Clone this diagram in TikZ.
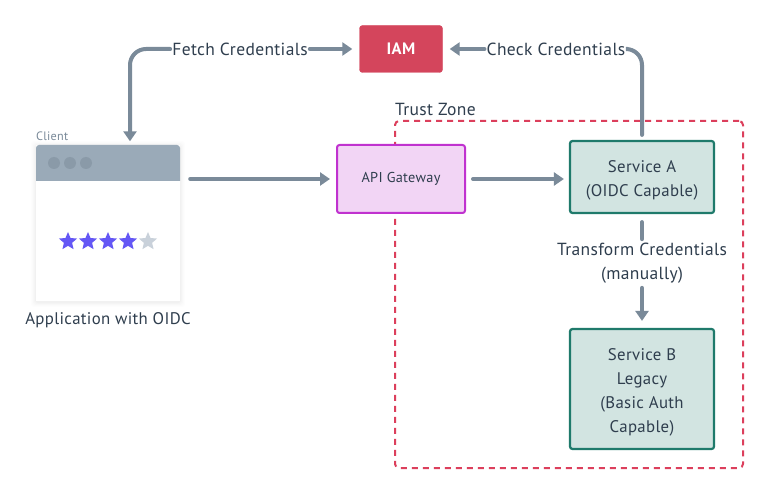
\documentclass[tikz,border=0pt]{standalone}
\usepackage{fontspec}
\setmainfont[LetterSpace=2]{PT Sans}
\usetikzlibrary{arrows.meta,shapes.geometric}
\definecolor{conn}{HTML}{7A8A99}
\definecolor{ink}{HTML}{2F3E4E}
\definecolor{zone}{HTML}{DC3F5C}
\definecolor{head}{HTML}{9AAAB8}
\definecolor{dotc}{HTML}{8A9AA8}
\definecolor{svcf}{HTML}{D2E4E1}
\definecolor{svcd}{HTML}{1F7A6B}
\definecolor{gwf}{HTML}{F2D5F5}
\definecolor{gwd}{HTML}{C032CF}
\definecolor{iamf}{HTML}{D4455C}
\definecolor{starc}{HTML}{6457F5}
\definecolor{stard}{HTML}{C9D1DA}
\newcommand{\bodyfont}{\fontsize{16.8}{24}\selectfont}
\newcommand{\lblfont}{\fontsize{17.5}{24}\selectfont}
\newcommand{\lowerstrut}{\rule{0pt}{18pt}}
\tikzset{
  x=1pt,y=-1pt,
  connector/.style={draw=conn,line width=4pt,line cap=round,-{Triangle[length=10pt,width=13pt]}},
  plainconn/.style={draw=conn,line width=4pt,line cap=round},
  lbl/.style={text=ink,inner sep=2pt,align=center,font=\lblfont},
  svc/.style={draw=svcd,fill=svcf,line width=2.2pt,rounded corners=2.5pt,text=ink,align=center,font=\bodyfont,inner sep=0pt,minimum width=144pt},
  starnode/.style={star,star points=5,star point ratio=2.2,minimum size=19pt,inner sep=0pt,draw=none},
  dotnode/.style={circle,fill=dotc,minimum size=12pt,inner sep=0pt,draw=none},
}
\begin{document}
\begin{tikzpicture}
\useasboundingbox[fill=white] (0,0) rectangle (768,494);
% trust zone
\node[draw=zone,line width=2pt,dash pattern=on 6pt off 5pt,rounded corners=4pt,minimum width=348pt,minimum height=347pt,inner sep=0pt] (zone) at (569,294.5) {};
\node[text=ink,font=\lblfont,anchor=base west,inner sep=0pt] (zonelabel) at (395,115.5) {Trust Zone};
% client card
\foreach \g/\o in {5/.006,4/.008,3/.01,2/.012,1/.015}{
  \fill[black,opacity=\o,rounded corners=3pt] (36-\g,145-\g+1) rectangle (180+\g,301+\g+1);
}
\node[fill=white,minimum width=144pt,minimum height=156pt,inner sep=0pt] (client) at (108,223) {};
\fill[head] (36,181) -- (36,148) arc[start angle=180,end angle=90,radius=3pt] -- (177,145) arc[start angle=90,end angle=0,radius=3pt] -- (180,181) -- cycle;
\node[dotnode] (d1) at (54,163) {};
\node[dotnode] (d2) at (70,163) {};
\node[dotnode] (d3) at (86,163) {};
\node[starnode,fill=starc] (s1) at (68,241.5) {};
\node[starnode,fill=starc] (s2) at (88,241.5) {};
\node[starnode,fill=starc] (s3) at (108,241.5) {};
\node[starnode,fill=starc] (s4) at (128,241.5) {};
\node[starnode,fill=stard] (s5) at (148,241.5) {};
\node[text=conn,font=\fontsize{12.2}{14}\selectfont,anchor=base west,inner sep=0pt] (clientlabel) at (36,141) {Client};
\node[lbl,font=\bodyfont,anchor=base] (applabel) at (108,324) {Application with OIDC};
% boxes
\node[draw=iamf,fill=iamf,rounded corners=3pt,minimum width=83pt,minimum height=47pt,inner sep=0pt,text=white,font=\bfseries\fontsize{16.5}{18}\selectfont] (iam) at (401,49) {IAM};
\node[draw=gwd,fill=gwf,line width=2pt,rounded corners=2.5pt,minimum width=128pt,minimum height=68pt,inner sep=0pt,text=ink,font=\fontsize{14.3}{16}\selectfont] (gw) at (401,179) {API Gateway};
\node[svc,minimum height=72pt] (sa) at (642,177) {\lowerstrut Service A\\(OIDC Capable)};
\node[svc,minimum height=120pt] (sb) at (642,389) {\lowerstrut Service B\\Legacy\\(Basic Auth\\Capable)};
% labels on connectors
\node[lbl] (fetch) at (240,49) {Fetch Credentials};
\node[lbl] (check) at (556,49) {Check Credentials};
\node[lbl] (trans) at (642,263.5) {Transform Credentials\\(manually)};
% connectors
\draw[connector,rounded corners=16pt,shorten >=3.5pt] (fetch.west) -| ([xshift=22pt]client.north);
\draw[connector,shorten >=7pt] (fetch.east) -- (iam.west);
\draw[connector,shorten >=7pt] (check.west) -- (iam.east);
\draw[plainconn,rounded corners=16pt,shorten >=5pt] (check.east) -| (sa.north);
\draw[connector,shorten <=10pt,shorten >=6pt] (client.east |- gw.west) -- (gw.west);
\draw[connector,shorten <=7pt,shorten >=5pt] (gw.east) -- (sa.west |- gw.east);
\draw[plainconn,shorten <=8pt,shorten >=2pt] (sa.south) -- (trans.north);
\draw[connector,shorten <=2pt,shorten >=7pt] (trans.south) -- (sb.north);
\end{tikzpicture}
\end{document}
